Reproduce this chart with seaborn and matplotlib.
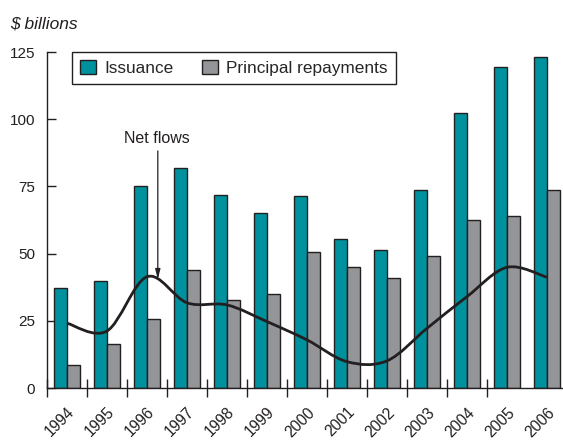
import numpy as np
import pandas as pd
import matplotlib
matplotlib.use('Agg')
import matplotlib.pyplot as plt
import seaborn as sns
from matplotlib.path import Path
from matplotlib.patches import PathPatch

# values ($ billions)
years = ['1994', '1995', '1996', '1997', '1998', '1999', '2000',
         '2001', '2002', '2003', '2004', '2005', '2006']
issuance = [37.3, 39.7, 75.0, 81.7, 71.8, 65.2, 71.3, 55.3, 51.5, 73.8, 102.4, 119.3, 123.0]
repayments = [8.4, 16.3, 25.8, 43.8, 32.7, 34.8, 50.5, 45.0, 41.0, 49.2, 62.4, 64.0, 73.7]
net_flows = [24.1, 21.2, 41.4, 31.7, 30.9, 24.7, 17.9, 9.8, 10.1, 22.2, 34.0, 44.9, 41.2]
series_names = ['Issuance', 'Principal repayments']

teal = '#00919e'
grey = '#939598'
ink = '#231f20'

df = pd.DataFrame({
    'year': years * 2,
    'value': issuance + repayments,
    'series': [series_names[0]] * len(years) + [series_names[1]] * len(years),
})

sns.set_style('ticks')
plt.rcParams['font.family'] = ['Liberation Sans', 'DejaVu Sans']

fig = plt.figure(figsize=(5.63, 4.40), dpi=100)
ax = fig.add_axes([47 / 563, 52 / 440, 516 / 563, 336 / 440])

sns.barplot(data=df, x='year', y='value', hue='series', order=years,
            hue_order=series_names, palette=[teal, grey], width=2 / 3,
            edgecolor=ink, linewidth=1.0, saturation=1, ax=ax)

# smooth net flows curve (Catmull-Rom drawn as cubic bezier segments)
pts = np.column_stack([np.arange(len(years)), net_flows]).astype(float)
ext = np.vstack([pts[0], pts, pts[-1]])
verts = [tuple(pts[0])]
codes = [Path.MOVETO]
for i in range(1, len(ext) - 2):
    p0, p1, p2, p3 = ext[i - 1], ext[i], ext[i + 1], ext[i + 2]
    verts += [tuple(p1 + (p2 - p0) / 6), tuple(p2 - (p3 - p1) / 6), tuple(p2)]
    codes += [Path.CURVE4] * 3
ax.add_patch(PathPatch(Path(verts, codes), facecolor='none', edgecolor=ink,
                       linewidth=2.0, capstyle='butt', zorder=5))

ax.annotate('', xy=(2.27, 40.4), xytext=(2.27, 88.2),
            arrowprops=dict(arrowstyle='-|>,head_length=0.6,head_width=0.15',
                            color=ink, lw=0.9, shrinkA=0, shrinkB=0))
ax.text(2.25, 91.0, 'Net flows', ha='center', va='baseline', fontsize=11.5, color=ink)

ax.set_xlim(-0.5, 12.4)
ax.set_ylim(0, 125)
ax.set_yticks([0, 25, 50, 75, 100, 125])
ax.set_xlabel('')
ax.set_ylabel('')

ax.set_xticks(np.arange(len(years)))
ax.set_xticklabels(years, rotation=45, ha='right', va='top', rotation_mode='anchor')
ax.set_xticks(np.arange(len(years) - 1) - 0.5, minor=True)
ax.tick_params(axis='x', which='major', length=0, pad=12, labelsize=11.2, colors=ink)
ax.tick_params(axis='x', which='minor', direction='inout', length=13, width=1.0, color=ink)
ax.tick_params(axis='y', direction='in', length=6.5, width=1.0, pad=8.5, labelsize=11, colors=ink)

sns.despine(ax=ax)
for s in ['left', 'bottom']:
    ax.spines[s].set_color(ink)
    ax.spines[s].set_linewidth(1.0)

handles, labels = ax.get_legend_handles_labels()
ax.legend(handles, labels, ncol=2, loc='upper left', bbox_to_anchor=(25 / 516, 1.0),
          frameon=True, fancybox=False, edgecolor=ink, framealpha=1,
          fontsize=12.4, handlelength=0.93, handleheight=0.93, handletextpad=0.52,
          columnspacing=1.6, borderpad=0.45, borderaxespad=0)
ax.get_legend().get_frame().set_linewidth(1.0)

fig.text(10 / 563, 1 - 28 / 440, '$ billions', style='italic', fontsize=12.5,
         ha='left', va='baseline', color=ink)

fig.savefig('out.png', dpi=100)
